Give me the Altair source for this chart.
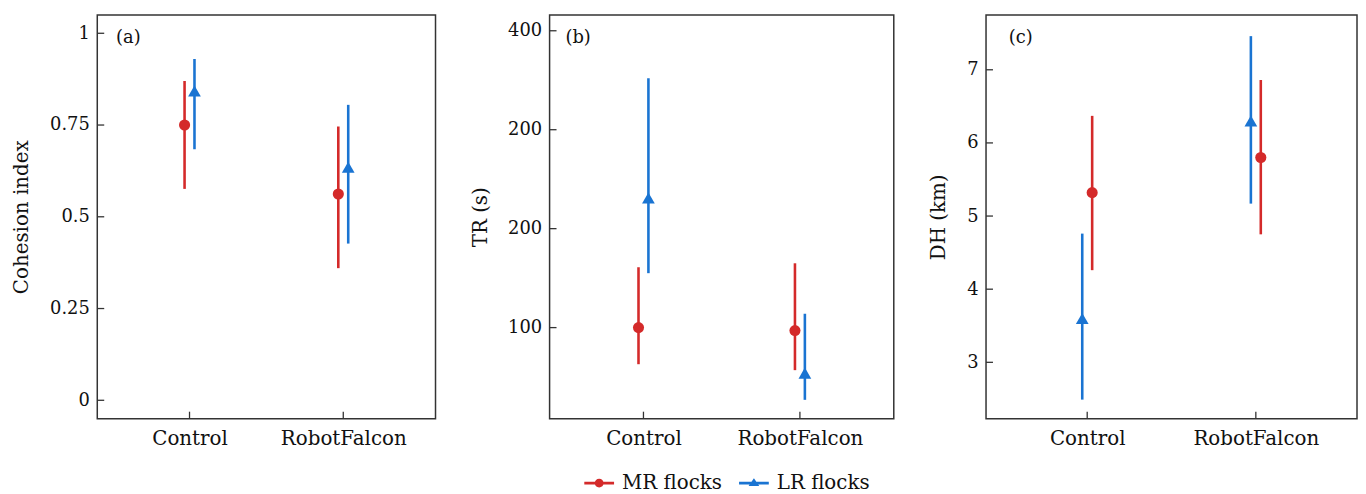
import altair as alt
import pandas as pd

conditions = ["Control", "RobotFalcon"]
groups = ["MR flocks", "LR flocks"]

# (a) Cohesion index
coh_mr_mean = [0.750, 0.562]
coh_mr_lo = [0.576, 0.360]
coh_mr_hi = [0.870, 0.746]
coh_lr_mean = [0.843, 0.635]
coh_lr_lo = [0.684, 0.427]
coh_lr_hi = [0.930, 0.805]
coh_ticks = [0, 0.25, 0.5, 0.75, 1]
coh_labels = ["0", "0.25", "0.5", "0.75", "1"]

# (b) TR (s)
tr_mr_mean = [100, 97]
tr_mr_lo = [63, 57]
tr_mr_hi = [161, 165]
tr_lr_mean = [231, 54]
tr_lr_lo = [155, 27]
tr_lr_hi = [352, 114]
tr_ticks = [100, 200, 300, 400]
tr_labels = ["100", "200", "200", "400"]

# (c) DH (km)
dh_mr_mean = [5.32, 5.80]
dh_mr_lo = [4.26, 4.75]
dh_mr_hi = [6.37, 6.86]
dh_lr_mean = [3.60, 6.30]
dh_lr_lo = [2.49, 5.17]
dh_lr_hi = [4.76, 7.46]
dh_ticks = [3, 4, 5, 6, 7]
dh_labels = ["3", "4", "5", "6", "7"]

RED = "#d42a2a"
BLUE = "#1a74d2"
FONT = "DejaVu Serif"
FRAME = "#333333"
H = 407

color_scale = alt.Scale(domain=groups, range=[RED, BLUE])

LEG_MR = ("M-1,-0.09 L1,-0.09 L1,0.09 L-1,0.09 Z "
          "M0.3,0 A0.3,0.3 0 1 1 -0.3,0 A0.3,0.3 0 1 1 0.3,0 Z")
LEG_LR = ("M-1,-0.09 L1,-0.09 L1,0.09 L-1,0.09 Z "
          "M0,-0.32 L0.36,0.2 L-0.36,0.2 Z")

LEG = alt.Legend(title=None, orient="none", legendX=491, legendY=457, direction="horizontal",
                 symbolSize=900, symbolStrokeWidth=0, symbolOpacity=1,
                 labelFont=FONT, labelFontSize=20, labelColor="#111",
                 labelOffset=8, columnPadding=17)


def make_df(mr_mean, mr_lo, mr_hi, lr_mean, lr_lo, lr_hi):
    rows = []
    for i, c in enumerate(conditions):
        rows.append({"cond": c, "group": groups[0], "y": mr_mean[i], "lo": mr_lo[i], "hi": mr_hi[i]})
        rows.append({"cond": c, "group": groups[1], "y": lr_mean[i], "lo": lr_lo[i], "hi": lr_hi[i]})
    return pd.DataFrame(rows)


def label_expr(ticks, labels):
    expr = "datum.label"
    for t, l in zip(ticks, labels):
        expr = f"datum.value == {t} ? '{l}' : ({expr})"
    return expr


def panel(df, letter, title, domain, ticks, labels, order, width, title_x, letter_x, legend=False):
    yscale = alt.Scale(domain=domain, nice=False, zero=False)
    xscale = alt.Scale(type="point", domain=conditions, padding=0.6)
    yaxis = alt.Axis(title=title, values=ticks, labelExpr=label_expr(ticks, labels),
                     ticks=False, tickSize=0, domain=False, grid=False,
                     labelPadding=8, labelFontSize=18, labelFont=FONT, labelColor="#111",
                     titleFont=FONT, titleFontSize=20, titleFontWeight="normal", titleColor="#111",
                     titleAngle=270, titleX=title_x, titleY=H / 2, titleAlign="center",
                     titleBaseline="alphabetic")
    xaxis = alt.Axis(title=None, labelAngle=0, ticks=False, tickSize=0, domain=False, grid=False,
                     labelPadding=10, labelFontSize=20, labelFont=FONT, labelColor="#111")
    X = alt.X("cond:N", scale=xscale, axis=xaxis)
    XO = alt.XOffset("group:N", scale=alt.Scale(domain=order, range=[-10, 10]))
    col = alt.Color("group:N", scale=color_scale, legend=LEG)

    tick_df = pd.DataFrame({"y": ticks})
    ytick = alt.Chart(tick_df).mark_rule(color=FRAME, strokeWidth=1.3).encode(
        y=alt.Y("y:Q", scale=yscale, axis=yaxis), x=alt.value(0), x2=alt.value(7))
    cat_df = pd.DataFrame({"cond": conditions})
    xtick = alt.Chart(cat_df).mark_rule(color=FRAME, strokeWidth=1.3).encode(
        x=X, y=alt.value(H), y2=alt.value(H - 7))

    base = alt.Chart(df)
    err = base.mark_rule(strokeWidth=2.6).encode(
        x=X, xOffset=XO, y=alt.Y("lo:Q", scale=yscale, axis=yaxis), y2="hi:Q", color=col)
    mr = base.transform_filter(alt.datum.group == groups[0]).mark_point(
        shape="circle", filled=True, size=125, opacity=1).encode(
        x=X, xOffset=XO, y=alt.Y("y:Q", scale=yscale, axis=yaxis), color=col)
    lr = base.transform_filter(alt.datum.group == groups[1]).mark_point(
        shape="triangle-up", filled=True, size=165, opacity=1).encode(
        x=X, xOffset=XO, y=alt.Y("y:Q", scale=yscale, axis=yaxis), color=col)
    txt = alt.Chart(pd.DataFrame({"t": [letter]})).mark_text(
        align="left", baseline="alphabetic", fontSize=18, font=FONT, color="#111").encode(
        x=alt.value(letter_x), y=alt.value(28), text="t:N")

    layers = [ytick, xtick, err, mr, lr, txt]
    if legend:
        lg = base.mark_point(filled=True, opacity=0).encode(
            x=X, xOffset=XO, y=alt.Y("y:Q", scale=yscale, axis=yaxis),
            color=col,
            shape=alt.Shape("group:N", scale=alt.Scale(domain=groups, range=[LEG_MR, LEG_LR]), legend=LEG))
        layers.append(lg)
    return alt.layer(*layers).properties(width=width, height=H)


df_a = make_df(coh_mr_mean, coh_mr_lo, coh_mr_hi, coh_lr_mean, coh_lr_lo, coh_lr_hi)
df_b = make_df(tr_mr_mean, tr_mr_lo, tr_mr_hi, tr_lr_mean, tr_lr_lo, tr_lr_hi)
df_c = make_df(dh_mr_mean, dh_mr_lo, dh_mr_hi, dh_lr_mean, dh_lr_lo, dh_lr_hi)

pa = panel(df_a, "(a)", "Cohesion index", [-0.05, 1.05], coh_ticks, coh_labels,
           groups, 341, -70, 19)
pb = panel(df_b, "(b)", "TR (s)", [8, 416], tr_ticks, tr_labels,
           groups, 347, -64, 16, legend=True)
pc = panel(df_c, "(c)", "DH (km)", [2.23, 7.75], dh_ticks, dh_labels,
           [groups[1], groups[0]], 374, -42, 23)

chart = alt.hconcat(pa, pb, pc, spacing=33).resolve_scale(
    xOffset="independent", y="independent", x="independent"
).properties(
    padding={"left": 3, "top": 4, "right": 0, "bottom": 0}
).configure_view(
    stroke=FRAME, strokeWidth=1.5
)

chart.save("out.html", embed_options={"renderer": "svg", "actions": False})
